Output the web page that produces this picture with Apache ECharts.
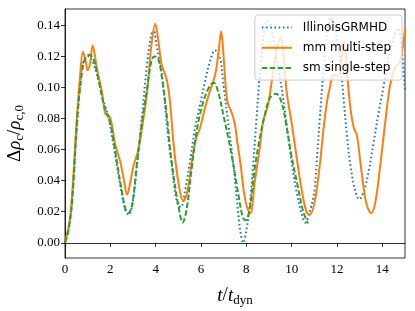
<!DOCTYPE html>
<html><head><meta charset="utf-8">
<script src="https://cdn.jsdelivr.net/npm/echarts@6/dist/echarts.min.js"></script>
<style>html,body{margin:0;padding:0;background:#fff}#c{width:415px;height:311px}</style>
</head><body><div id="c"></div>
<script>
// Data
const seriesNames = ['IllinoisGRMHD', 'mm multi-step', 'sm single-step'];
const xTicks = [0, 2, 4, 6, 8, 10, 12, 14];
const yTicks = [0, 0.02, 0.04, 0.06, 0.08, 0.10, 0.12, 0.14];

const illinoisT = [0,0.15,0.31,0.53,0.68,0.82,1.04,1.26,1.49,1.71,1.93,2.07,2.22,2.44,2.66,2.81,2.96,3.18,3.4,3.62,3.81,3.92,4.04,4.26,4.41,4.56,4.71,4.85,5.0,5.12,5.29,5.51,5.74,5.96,6.18,6.4,6.62,6.84,6.99,7.21,7.43,7.65,7.75,7.86,8.0,8.15,8.3,8.45,8.6,8.75,8.92,9.1,9.3,9.5,9.7,9.95,10.2,10.45,10.6,10.8,11.0,11.13,11.25,11.4,11.55,11.75,11.95,12.15,12.29,12.44,12.59,12.81,12.99,13.18,13.4,13.62,13.84,14.07,14.28,14.5,14.7,14.85,15.0];
const illinoisV = [0,0.008,0.026,0.076,0.104,0.117,0.12,0.115,0.104,0.091,0.08,0.069,0.056,0.037,0.021,0.018,0.024,0.05,0.082,0.115,0.134,0.136,0.127,0.11,0.089,0.067,0.05,0.033,0.024,0.023,0.033,0.052,0.074,0.089,0.104,0.117,0.124,0.119,0.102,0.076,0.05,0.018,0.006,0.0,0.008,0.024,0.05,0.08,0.11,0.132,0.143,0.138,0.122,0.105,0.085,0.057,0.034,0.018,0.013,0.02,0.033,0.057,0.082,0.11,0.132,0.145,0.135,0.115,0.093,0.069,0.05,0.033,0.028,0.033,0.046,0.065,0.084,0.102,0.119,0.132,0.138,0.125,0.098];

const multiT = [0,0.24,0.53,0.68,0.79,0.9,1.0,1.1,1.22,1.41,1.63,1.78,1.93,2.04,2.22,2.44,2.59,2.74,2.88,3.03,3.22,3.4,3.62,3.81,3.98,4.12,4.26,4.49,4.63,4.78,4.93,5.1,5.22,5.4,5.59,5.78,5.96,6.18,6.4,6.62,6.76,6.89,7.01,7.16,7.35,7.5,7.6,7.75,7.9,8.05,8.18,8.37,8.59,8.74,8.96,9.16,9.32,9.52,9.64,9.78,9.99,10.21,10.43,10.65,10.8,11.01,11.24,11.38,11.55,11.7,11.85,12.07,12.22,12.32,12.44,12.59,12.74,12.88,13.03,13.18,13.32,13.51,13.69,13.91,14.13,14.35,14.57,14.75,14.87,15.0];
const multiV = [0,0.018,0.082,0.11,0.123,0.118,0.111,0.115,0.127,0.112,0.097,0.083,0.082,0.078,0.063,0.052,0.041,0.031,0.039,0.05,0.059,0.074,0.097,0.127,0.141,0.13,0.115,0.105,0.091,0.065,0.046,0.031,0.027,0.033,0.052,0.067,0.074,0.087,0.098,0.108,0.121,0.136,0.117,0.091,0.084,0.076,0.065,0.05,0.032,0.022,0.019,0.039,0.061,0.078,0.089,0.108,0.123,0.132,0.121,0.097,0.078,0.056,0.035,0.02,0.018,0.026,0.05,0.07,0.09,0.101,0.108,0.107,0.121,0.13,0.11,0.087,0.074,0.069,0.052,0.035,0.024,0.019,0.026,0.05,0.078,0.102,0.113,0.116,0.123,0.138];

const singleT = [0,0.15,0.31,0.53,0.75,0.9,1.07,1.26,1.49,1.71,1.93,2.07,2.29,2.51,2.66,2.78,2.96,3.18,3.4,3.62,3.81,3.94,4.1,4.26,4.49,4.63,4.78,5.0,5.19,5.37,5.59,5.81,6.03,6.25,6.45,6.57,6.76,6.99,7.21,7.43,7.65,7.85,7.97,8.15,8.37,8.59,8.81,9.03,9.3,9.54,9.76,9.99,10.29,10.51,10.72];
const singleV = [0,0.008,0.026,0.078,0.11,0.119,0.121,0.118,0.104,0.089,0.08,0.072,0.052,0.033,0.022,0.019,0.024,0.052,0.078,0.099,0.117,0.12,0.119,0.108,0.082,0.061,0.044,0.024,0.013,0.022,0.048,0.072,0.087,0.097,0.102,0.103,0.097,0.082,0.067,0.05,0.031,0.016,0.0145,0.022,0.048,0.067,0.082,0.093,0.096,0.091,0.076,0.056,0.035,0.02,0.0124];

const zip = (a, b) => a.map((t, i) => [t, b[i]]);
const serif = '"Liberation Serif", "DejaVu Serif", serif';
const nameRich = {
  i: {fontFamily: serif, fontStyle: 'italic', fontSize: 19, color: '#000'},
  m: {fontFamily: serif, fontSize: 19, color: '#000'},
  s: {fontFamily: serif, fontSize: 13, color: '#000', padding: [10, 0, 0, 0]}
};

const chart = echarts.init(document.getElementById('c'), null, {renderer: 'canvas'});
chart.setOption({
  animation: false,
  backgroundColor: '#fff',
  grid: {left: 65, right: 10, top: 9, bottom: 53, outerBoundsMode: 'none', containLabel: false,
    show: true, borderColor: '#000', borderWidth: 0.8, backgroundColor: 'transparent'},
  legend: {
    orient: 'vertical', right: 13, top: 15,
    itemWidth: 30, itemHeight: 12, itemGap: 8.3,
    padding: [6.5, 11, 6, 6],
    backgroundColor: 'rgba(255,255,255,0.8)', borderColor: '#cccccc', borderWidth: 1, borderRadius: 3,
    itemStyle: {opacity: 0},
    textStyle: {fontFamily: '"DejaVu Sans", sans-serif', fontSize: 12, color: '#000', padding: [0, 0, 0, 6]},
    data: seriesNames
  },
  xAxis: {
    type: 'value', min: 0, max: 15, interval: 2,
    axisLine: {show: true, lineStyle: {color: '#000', width: 0.8}},
    axisTick: {show: true, length: 4, lineStyle: {color: '#000', width: 0.8}},
    axisLabel: {fontFamily: serif, fontSize: 13, color: '#000', margin: 5, showMaxLabel: false},
    splitLine: {show: false},
    name: '{i|t}{m|/}{i|t}{s|dyn}', nameLocation: 'middle', nameGap: 26,
    nameTextStyle: {fontFamily: serif, fontSize: 19, color: '#000', rich: nameRich}
  },
  yAxis: {
    type: 'value', min: -0.0098, max: 0.1505,
    axisLine: {show: true, lineStyle: {color: '#000', width: 0.8}},
    axisTick: {show: true, length: 4, customValues: yTicks, lineStyle: {color: '#000', width: 0.8}},
    axisLabel: {fontFamily: serif, fontSize: 13, color: '#000', margin: 5, customValues: yTicks,
      formatter: v => v.toFixed(2)},
    splitLine: {show: false},
    name: '{m|Δ}{i|ρ}{s|c}{m|/}{i|ρ}{s|c,0}', nameLocation: 'middle', nameGap: 31, nameRotate: 90,
    nameTextStyle: {fontFamily: serif, fontSize: 19, color: '#000', rich: nameRich}
  },
  series: [
    {name: seriesNames[0], type: 'line', data: zip(illinoisT, illinoisV), smooth: 0.35, symbol: 'none', z: 2,
      lineStyle: {color: '#1f77b4', width: 2, type: [1.6, 2.6]}, itemStyle: {color: '#1f77b4'}},
    {name: seriesNames[1], type: 'line', data: zip(multiT, multiV), smooth: 0.35, symbol: 'none', z: 3,
      lineStyle: {color: '#ff7f0e', width: 2, type: 'solid'}, itemStyle: {color: '#ff7f0e'}},
    {name: seriesNames[2], type: 'line', data: zip(singleT, singleV), smooth: 0.35, symbol: 'none', z: 4,
      lineStyle: {color: '#2ca02c', width: 2, type: [5.5, 2.4]}, itemStyle: {color: '#2ca02c'}}
  ]
});
</script></body></html>
